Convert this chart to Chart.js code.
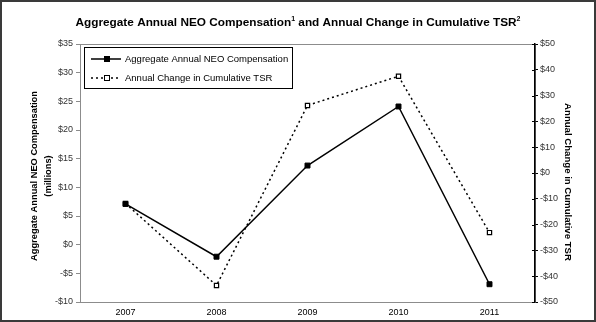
<!DOCTYPE html>
<html>
<head>
<meta charset="utf-8">
<script src="https://cdn.jsdelivr.net/npm/chart.js@4.4.1/dist/chart.umd.min.js"></script>
<style>
  html, body { margin: 0; padding: 0; background: #fff; }
  #wrap { width: 596px; height: 322px; position: relative; }
</style>
</head>
<body>
<div id="wrap"><canvas id="chart" width="596" height="322"></canvas></div>
<script>
// Chart data
const years = ['2007', '2008', '2009', '2010', '2011'];
const neoComp = [7.1, -2.1, 13.8, 24.1, -6.9];      // $ millions, left axis
const tsrChange = [-11.8, -43.6, 26.2, 37.5, -23.1]; // right axis
const leftTicks = { min: -10, max: 35, step: 5 };
const rightTicks = { min: -50, max: 50, step: 10 };

const FONT = '"Liberation Sans", Arial, sans-serif';
const fmtMoney = v => (v < 0 ? '-$' + Math.abs(v) : '$' + v);

// Box, title, axis titles, legend and inner ticks
const decorPlugin = {
  id: 'decor',
  beforeDraw(chart) {
    const ctx = chart.ctx;
    const a = chart.chartArea;
    ctx.save();
    ctx.fillStyle = '#fff';
    ctx.fillRect(0, 0, chart.width, chart.height);
    // plot area border (gray)
    ctx.strokeStyle = '#8c8c8c';
    ctx.lineWidth = 1;
    ctx.strokeRect(a.left + 0.5, a.top + 0.5, a.right - a.left, a.bottom - a.top);
    ctx.restore();
  },
  afterDraw(chart) {
    const ctx = chart.ctx;
    const a = chart.chartArea;
    ctx.save();

    // outer frame
    ctx.strokeStyle = '#3a3a3a';
    ctx.lineWidth = 2;
    ctx.strokeRect(1, 1, chart.width - 2, chart.height - 2);

    // title with superscripts
    ctx.fillStyle = '#000';
    ctx.textBaseline = 'alphabetic';
    const parts = [
      ['Aggregate Annual NEO Compensation', false],
      ['1', true],
      [' and Annual Change in Cumulative TSR', false],
      ['2', true]
    ];
    const mainFont = 'bold 11.8px ' + FONT;
    const supFont = 'bold 7px ' + FONT;
    let total = 0;
    parts.forEach(([t, sup]) => { ctx.font = sup ? supFont : mainFont; total += ctx.measureText(t).width; });
    let x = 298 - total / 2;
    parts.forEach(([t, sup]) => {
      ctx.font = sup ? supFont : mainFont;
      ctx.textAlign = 'left';
      ctx.fillText(t, x, sup ? 21 : 26);
      x += ctx.measureText(t).width;
    });

    // left axis title
    ctx.font = 'bold 9.3px ' + FONT;
    ctx.textAlign = 'center';
    ctx.textBaseline = 'middle';
    ctx.save();
    ctx.translate(34, 176);
    ctx.rotate(-Math.PI / 2);
    ctx.fillText('Aggregate Annual NEO Compensation', 0, 0);
    ctx.fillText('(millions)', 0, 14);
    ctx.restore();

    // right axis title
    ctx.font = 'bold 9.6px ' + FONT;
    ctx.save();
    ctx.translate(568, 182);
    ctx.rotate(Math.PI / 2);
    ctx.fillText('Annual Change in Cumulative TSR', 0, 0);
    ctx.restore();

    // inner ticks on right axis
    const y1 = chart.scales.y1;
    ctx.strokeStyle = '#000';
    ctx.lineWidth = 1;
    y1.ticks.forEach(t => {
      const py = Math.round(y1.getPixelForValue(t.value)) + 0.5;
      ctx.beginPath();
      ctx.moveTo(a.right - 3, py);
      ctx.lineTo(a.right, py);
      ctx.stroke();
    });

    // legend box
    const lx = 84, ly = 47, lw = 208, lh = 41;
    ctx.fillStyle = '#fff';
    ctx.fillRect(lx, ly, lw, lh);
    ctx.strokeStyle = '#000';
    ctx.lineWidth = 1;
    ctx.strokeRect(lx + 0.5, ly + 0.5, lw, lh);
    const rows = [
      { label: 'Aggregate Annual NEO Compensation', dash: [], fill: '#000', y: 59 },
      { label: 'Annual Change in Cumulative TSR', dash: [2, 3], fill: '#fff', y: 78 }
    ];
    rows.forEach(r => {
      ctx.strokeStyle = '#000';
      ctx.lineWidth = 1.5;
      ctx.setLineDash(r.dash);
      ctx.beginPath();
      ctx.moveTo(91, r.y);
      ctx.lineTo(121, r.y);
      ctx.stroke();
      ctx.setLineDash([]);
      ctx.fillStyle = r.fill;
      ctx.lineWidth = 1;
      ctx.fillRect(104, r.y - 3, 6, 6);
      ctx.strokeRect(104.5, r.y - 2.5, 5, 5);
      ctx.fillStyle = '#000';
      ctx.font = '9.5px ' + FONT;
      ctx.textAlign = 'left';
      ctx.textBaseline = 'middle';
      ctx.fillText(r.label, 125, r.y);
    });

    ctx.restore();
  }
};

new Chart(document.getElementById('chart'), {
  type: 'line',
  data: {
    labels: years,
    datasets: [
      {
        label: 'Aggregate Annual NEO Compensation',
        data: neoComp,
        yAxisID: 'y',
        borderColor: '#000',
        borderWidth: 1.5,
        pointStyle: 'rect',
        pointRadius: 3.5,
        pointBackgroundColor: '#000',
        pointBorderColor: '#000',
        pointBorderWidth: 1,
        tension: 0
      },
      {
        label: 'Annual Change in Cumulative TSR',
        data: tsrChange,
        yAxisID: 'y1',
        borderColor: '#000',
        borderWidth: 1.5,
        borderDash: [2, 3],
        pointStyle: 'rect',
        pointRadius: 3,
        pointBackgroundColor: '#fff',
        pointBorderColor: '#000',
        pointBorderWidth: 1.2,
        tension: 0
      }
    ]
  },
  options: {
    responsive: false,
    animation: false,
    layout: { padding: { top: 44, left: 0, right: 0, bottom: 0 } },
    plugins: {
      legend: { display: false },
      title: { display: false },
      tooltip: { enabled: false }
    },
    scales: {
      x: {
        offset: true,
        grid: { display: false, drawTicks: false },
        border: { color: '#8c8c8c' },
        ticks: { color: '#000', font: { family: FONT, size: 9 }, padding: 5, maxRotation: 0 },
        afterFit: s => { s.height = 20; }
      },
      y: {
        position: 'left',
        min: leftTicks.min,
        max: leftTicks.max,
        ticks: { stepSize: leftTicks.step, color: '#333', font: { family: FONT, size: 9 }, padding: 3, callback: fmtMoney },
        grid: { drawOnChartArea: false, tickLength: 4, color: '#8c8c8c' },
        border: { color: '#8c8c8c' },
        afterFit: s => { s.width = 80; }
      },
      y1: {
        position: 'right',
        min: rightTicks.min,
        max: rightTicks.max,
        ticks: { stepSize: rightTicks.step, color: '#333', font: { family: FONT, size: 9 }, padding: 2, callback: fmtMoney },
        grid: { drawOnChartArea: false, tickLength: 3, color: '#000' },
        border: { color: '#000', width: 1.5 },
        afterFit: s => { s.width = 61; }
      }
    }
  },
  plugins: [decorPlugin]
});
</script>
</body>
</html>
